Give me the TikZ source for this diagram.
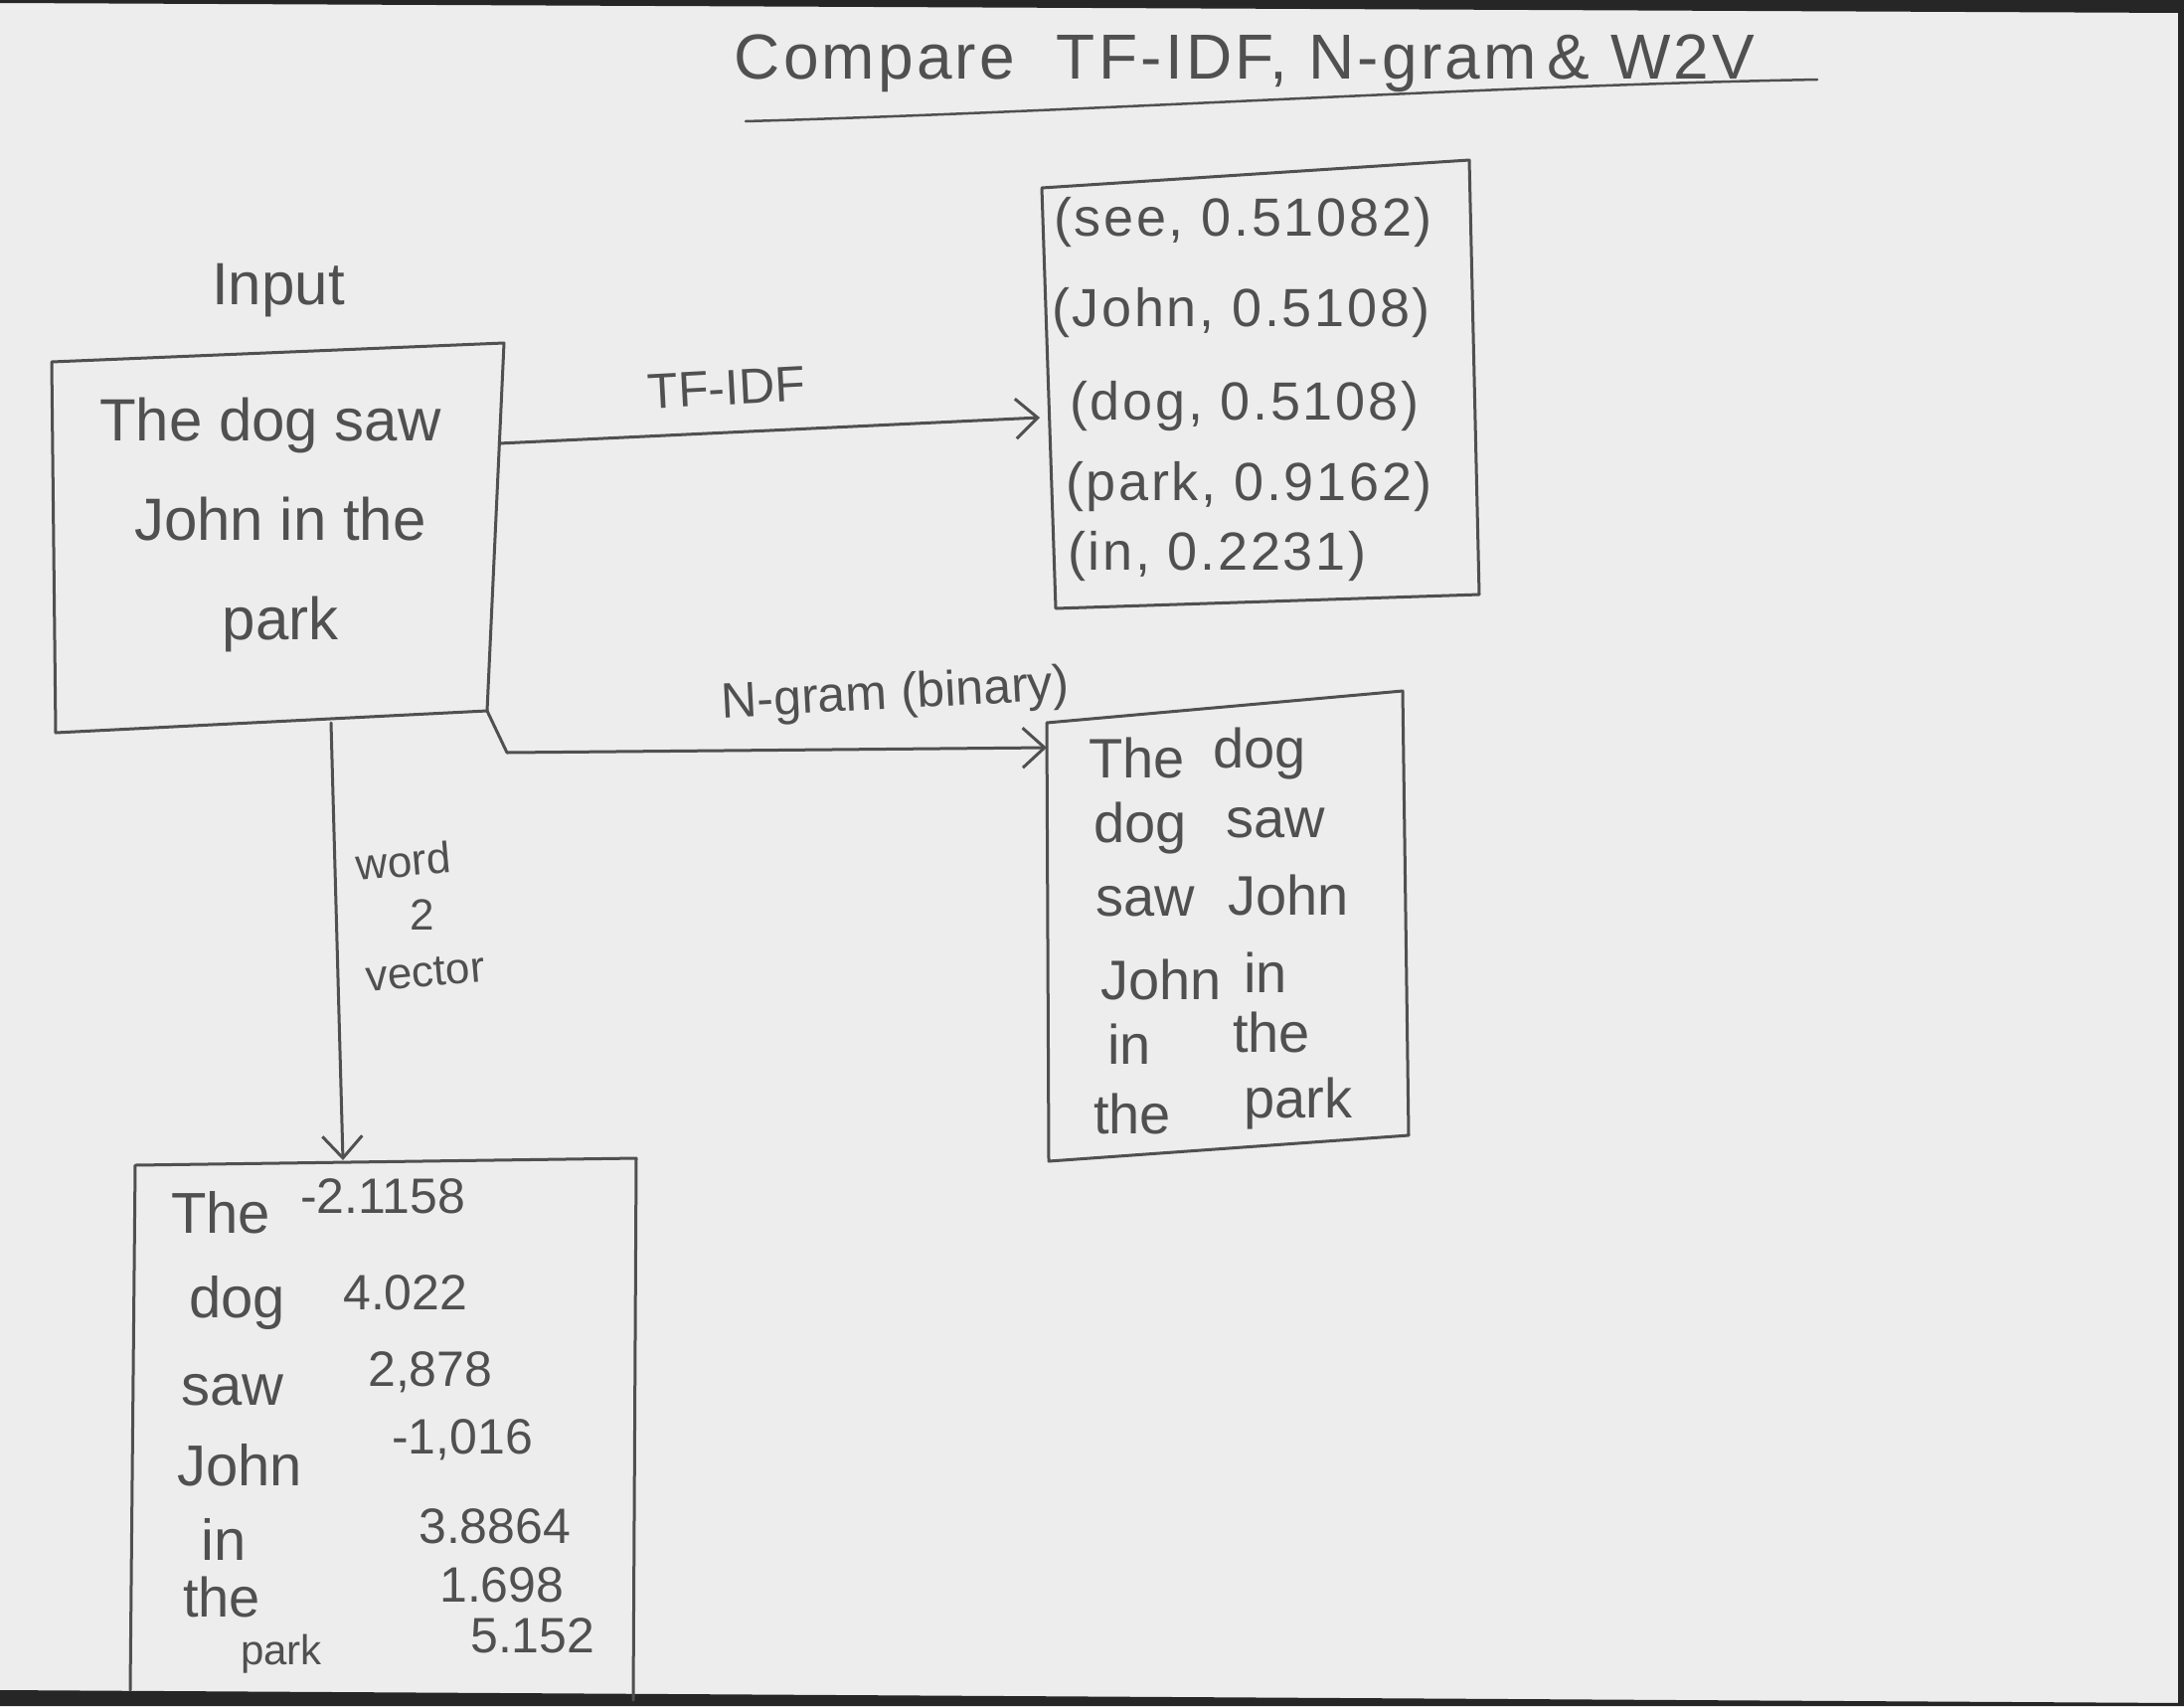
\documentclass[tikz,border=0pt]{standalone}
\usepackage{fontspec}
\setmainfont{Liberation Sans}
\usetikzlibrary{arrows.meta}
\definecolor{paper}{HTML}{EDEDED}
\definecolor{pencil}{HTML}{505050}
\definecolor{scanedge}{HTML}{262626}
\begin{document}
\begin{tikzpicture}[x=1pt,y=-1pt,
  pen/.style={draw=pencil, line width=3pt, line join=round, line cap=round},
  arr/.style={pen, -{Straight Barb[length=22pt,width=40pt,line width=3pt]}},
  hand/.style={text=pencil, inner sep=0pt, font=\fontsize{#1}{#1}\selectfont},
  hand/.default=56,
  wide/.style={font=\fontsize{#1}{#1}\selectfont\addfontfeature{LetterSpace=5}}]
\fill[paper] (0,0) rectangle (2197,1716);
\useasboundingbox (0,0) rectangle (2197,1716);
% scanner edges
\fill[scanedge] (0,0) -- (2197,0) -- (2197,13) -- (0,3) -- cycle;
\fill[scanedge] (0,1700) -- (2197,1713) -- (2197,1716) -- (0,1716) -- cycle;
\fill[scanedge] (2191,0) rectangle (2197,1716);

% title
\node[hand=64, wide=64] (title) at (1252,64) {Compare\ \ TF-IDF, N-gram\,\& W2V};
\coordinate (ulA) at (750,122);
\coordinate (ulB) at (1828,80);
\draw[pen, line width=2.5pt] (ulA) .. controls (1100,112) and (1500,86) .. (ulB);

% input
\node[hand=60] (inlabel) at (280,292) {Input};
\coordinate (inTL) at (52,364);
\coordinate (inTR) at (507,345);
\coordinate (inBR) at (490,715);
\coordinate (inBL) at (56,737);
\draw[pen] (inTL) -- (inTR) -- (inBR) -- (inBL) -- cycle;
\node[hand=60] (in1) at (272,428) {The dog saw};
\node[hand=60] (in2) at (282,522) {John in the};
\node[hand=60] (in3) at (282,628) {park};

% TF-IDF box
\coordinate (tfTL) at (1048,189);
\coordinate (tfTR) at (1478,161);
\coordinate (tfBR) at (1488,598);
\coordinate (tfBL) at (1062,612);
\draw[pen] (tfTL) -- (tfTR) -- (tfBR) -- (tfBL) -- cycle;
\node[hand=54, wide=54, anchor=west] (tf1) at (1060,224) {(see, 0.51082)};
\node[hand=54, wide=54, anchor=west] (tf2) at (1058,315) {(John, 0.5108)};
\node[hand=54, wide=54, anchor=west] (tf3) at (1076,409) {(dog, 0.5108)};
\node[hand=54, wide=54, anchor=west] (tf4) at (1072,490) {(park, 0.9162)};
\node[hand=54, wide=54, anchor=west] (tf5) at (1074,560) {(in, 0.2231)};

% TF-IDF arrow
\coordinate (tfA) at (502,446);
\coordinate (tfB) at (1046,420);
\draw[arr] (tfA) -- (tfB);
\node[hand=50, rotate=3] (tflabel) at (731,390) {TF-IDF};

% N-gram box
\coordinate (ngTL) at (1053,727);
\coordinate (ngTR) at (1411,695);
\coordinate (ngBR) at (1417,1142);
\coordinate (ngBL) at (1055,1168);
\draw[pen] (ngTL) -- (ngTR) -- (ngBR) -- (ngBL) -- cycle;
\node[hand=56, anchor=west] (ng1a) at (1095,762) {The};
\node[hand=56, anchor=west] (ng1b) at (1220,758) {dog};
\node[hand=56, anchor=west] (ng2a) at (1100,833) {dog};
\node[hand=56, anchor=west] (ng2b) at (1233,828) {saw};
\node[hand=56, anchor=west] (ng3a) at (1102,907) {saw};
\node[hand=56, anchor=west] (ng3b) at (1235,900) {John};
\node[hand=56, anchor=west] (ng4a) at (1107,985) {John};
\node[hand=56, anchor=west] (ng4b) at (1251,978) {in};
\node[hand=56, anchor=west] (ng5a) at (1114,1050) {in};
\node[hand=56, anchor=west] (ng5b) at (1240,1038) {the};
\node[hand=56, anchor=west] (ng6a) at (1100,1120) {the};
\node[hand=56, anchor=west] (ng6b) at (1251,1110) {park};

% N-gram arrow
\coordinate (ngBend) at (510,757);
\coordinate (ngEnd) at (1053,752);
\draw[arr] (inBR) -- (ngBend) -- (ngEnd);
\node[hand=50, rotate=3] (nglabel) at (901,700) {N-gram (binary)};

% word2vec arrow
\coordinate (wvA) at (333,727);
\coordinate (wvB) at (345,1167);
\draw[arr] (wvA) -- (wvB);
\node[hand=44, rotate=5] (wv1) at (406,866) {word};
\node[hand=44] (wv2) at (425,920) {2};
\node[hand=44, rotate=5] (wv3) at (428,978) {vector};

% W2V box
\coordinate (wbBL) at (131,1700);
\coordinate (wbTL) at (136,1172);
\coordinate (wbTR) at (640,1165);
\coordinate (wbBR) at (637,1710);
\draw[pen] (wbBL) -- (wbTL) -- (wbTR) -- (wbBR);
\node[hand=58, anchor=west] (w1a) at (172,1220) {The};
\node[hand=50, anchor=west] (w1b) at (302,1203) {-2.1158};
\node[hand=58, anchor=west] (w2a) at (190,1310) {dog};
\node[hand=50, anchor=west] (w2b) at (345,1300) {4.022};
\node[hand=58, anchor=west] (w3a) at (182,1398) {saw};
\node[hand=50, anchor=west] (w3b) at (370,1380) {2,878};
\node[hand=58, anchor=west] (w4a) at (178,1474) {John};
\node[hand=50, anchor=west] (w4b) at (394,1448) {-1,016};
\node[hand=58, anchor=west] (w5a) at (202,1548) {in};
\node[hand=50, anchor=west] (w5b) at (421,1535) {3.8864};
\node[hand=56, anchor=west] (w6a) at (184,1606) {the};
\node[hand=50, anchor=west] (w6b) at (442,1594) {1.698};
\node[hand=42, anchor=west] (w7a) at (242,1664) {park};
\node[hand=50, anchor=west] (w7b) at (473,1645) {5.152};
\end{tikzpicture}
\end{document}
